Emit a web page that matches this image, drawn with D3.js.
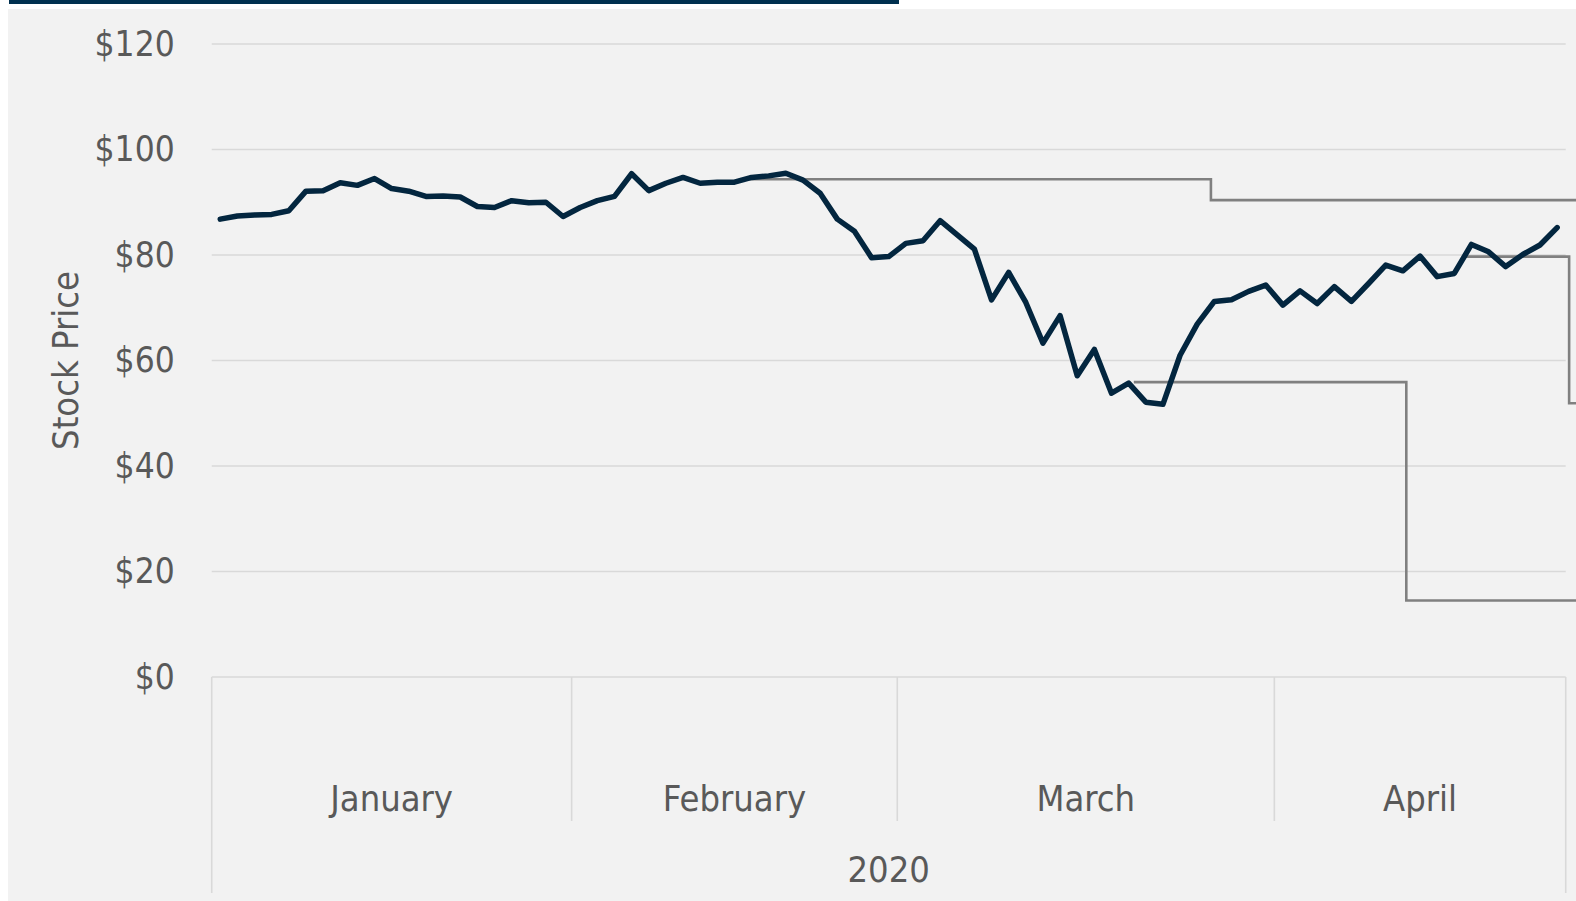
<!DOCTYPE html>
<html>
<head>
<meta charset="utf-8">
<script src="https://cdn.jsdelivr.net/npm/d3@7"></script>
<style>
  body { margin: 0; background: #ffffff; }
  svg text { font-family: Tahoma, "DejaVu Sans Condensed", "DejaVu Sans", sans-serif; fill: #595959; }
</style>
</head>
<body>
<div id="chart"></div>
<script>
// values
var months = ["January", "February", "March", "April"];
var monthDays = [21, 19, 22, 17];
var yearLabel = "2020";
var yTicks = [0, 20, 40, 60, 80, 100, 120];
var prices = [
  86.8, 87.4, 87.6, 87.7, 88.4, 92.1, 92.2, 93.7, 93.2, 94.5, 92.6, 92.1, 91.1, 91.2, 91.0, 89.2, 89.0, 90.3, 89.9, 90.0, 87.3,
  89.0, 90.3, 91.1, 95.4, 92.2, 93.6, 94.7, 93.6, 93.8, 93.8, 94.7, 95.0, 95.5, 94.2, 91.7, 86.8, 84.5, 79.5, 79.7,
  82.2, 82.7, 86.5, 83.8, 81.1, 71.5, 76.7, 71.0, 63.3, 68.5, 57.1, 62.1, 53.8, 55.7, 52.1, 51.7, 61.0, 66.9, 71.2, 71.5, 73.1, 74.3,
  70.5, 73.2, 70.8, 74.0, 71.2, 74.6, 78.1, 77.0, 79.8, 75.9, 76.5, 82.0, 80.6, 77.8, 80.1, 81.9, 85.2
];
// callout connectors (x in trading-day index units, y in dollars)
var connA = [[30.5, 94.35], [57.8, 94.35], [57.8, 90.4], [81, 90.4]];
var connB = [[53.3, 55.9], [69.2, 55.9], [69.2, 14.5], [81, 14.5]];
var connC = [[72.5, 79.7], [78.7, 79.7], [78.7, 51.9], [81, 51.9]];

var width = 1576, height = 901;
var plotLeft = 211.7, plotRight = 1565.7, plotTop = 44, plotBottom = 677;

var svg = d3.select("#chart").append("svg")
    .attr("width", width)
    .attr("height", height);

// panel background + header bar
svg.append("rect").attr("x", 8).attr("y", 9).attr("width", width - 8).attr("height", height - 9).attr("fill", "#f2f2f2");
svg.append("rect").attr("x", 9).attr("y", 0).attr("width", 890).attr("height", 4).attr("fill", "#00304f");

var x = d3.scaleBand()
    .domain(d3.range(prices.length))
    .range([plotLeft, plotRight]);
var bw = x.bandwidth();
var xi = d3.scaleLinear()
    .domain([0, prices.length - 1])
    .range([x(0) + bw / 2, x(prices.length - 1) + bw / 2]);
var y = d3.scaleLinear()
    .domain([0, 120])
    .range([plotBottom, plotTop]);

// gridlines
svg.append("g").attr("class", "grid")
  .selectAll("line")
  .data(yTicks.filter(function(d) { return d > 0; }))
  .enter().append("line")
    .attr("x1", plotLeft).attr("x2", plotRight)
    .attr("y1", function(d) { return y(d); })
    .attr("y2", function(d) { return y(d); })
    .attr("stroke", "#d9d9d9")
    .attr("stroke-width", 1.6);

// y axis labels
var yAxis = d3.axisLeft(y)
    .tickValues(yTicks)
    .tickSize(0)
    .tickPadding(37)
    .tickFormat(function(d) { return "$" + d; });
var gy = svg.append("g")
    .attr("transform", "translate(" + plotLeft + ",0)")
    .call(yAxis);
gy.select(".domain").remove();
gy.selectAll("text").style("font-size", "35px").attr("fill", "#595959");

svg.append("text")
    .attr("transform", "translate(78," + ((plotTop + plotBottom) / 2) + ") rotate(-90)")
    .attr("text-anchor", "middle")
    .style("font-size", "36px")
    .text("Stock Price");

// category axis (month / year boxes)
var axisCol = "#d9d9d9";
var g = svg.append("g").attr("class", "xaxis");
g.append("line")
    .attr("x1", plotLeft).attr("x2", plotRight)
    .attr("y1", plotBottom).attr("y2", plotBottom)
    .attr("stroke", axisCol).attr("stroke-width", 1.6);

var starts = [], s = 0;
monthDays.forEach(function(n) { starts.push(s); s += n; });
var bounds = starts.map(function(i) { return x(i); }).concat([plotRight]);

g.selectAll("line.sep")
  .data(bounds)
  .enter().append("line")
    .attr("class", "sep")
    .attr("x1", function(d) { return d; })
    .attr("x2", function(d) { return d; })
    .attr("y1", plotBottom)
    .attr("y2", function(d, i) { return (i == 0 || i == bounds.length - 1) ? 893 : 821; })
    .attr("stroke", axisCol).attr("stroke-width", 1.6);

g.selectAll("text.month")
  .data(months)
  .enter().append("text")
    .attr("class", "month")
    .attr("x", function(d, i) { return (bounds[i] + bounds[i + 1]) / 2; })
    .attr("y", 798)
    .attr("dy", "0.35em")
    .attr("text-anchor", "middle")
    .style("font-size", "36px")
    .text(function(d) { return d; });

g.append("text")
    .attr("x", (plotLeft + plotRight) / 2)
    .attr("y", 869)
    .attr("dy", "0.35em")
    .attr("text-anchor", "middle")
    .style("font-size", "36px")
    .text(yearLabel);

// connectors
var conn = d3.line()
    .x(function(d) { return xi(d[0]); })
    .y(function(d) { return y(d[1]); });
svg.append("g").selectAll("path")
  .data([connA, connB, connC])
  .enter().append("path")
    .attr("d", conn)
    .attr("fill", "none")
    .attr("stroke", "#808080")
    .attr("stroke-width", 2.6);

// price line
var line = d3.line()
    .x(function(d, i) { return x(i) + bw / 2; })
    .y(function(d) { return y(d); });
svg.append("path")
    .datum(prices)
    .attr("d", line)
    .attr("fill", "none")
    .attr("stroke", "#03263f")
    .attr("stroke-width", 5.5)
    .attr("stroke-linejoin", "round")
    .attr("stroke-linecap", "round");
</script>
</body>
</html>
